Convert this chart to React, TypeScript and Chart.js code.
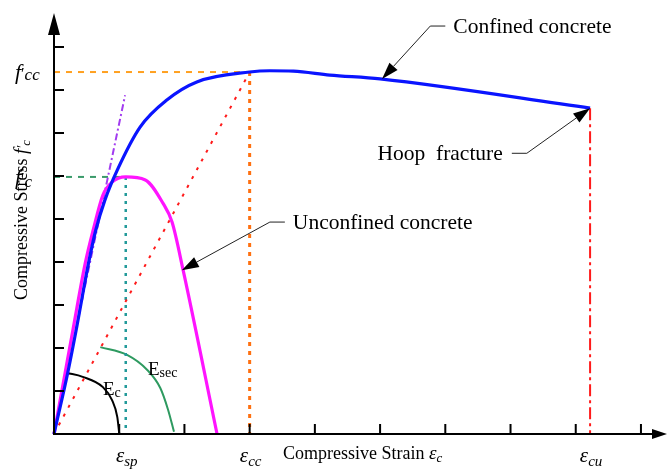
import { useEffect, useRef } from "react";
import { Chart, registerables } from "chart.js";

Chart.register(...registerables);

const SERIF = '"Liberation Serif", "Times New Roman", serif';

// Stress–strain curves (strain and stress in axis-tick units)
const confinedStrain = [0, 0.21, 0.34, 0.53, 0.64, 0.78, 0.97, 1.32, 1.73, 2.19, 3.0, 3.31, 3.67, 4.23, 5.0, 8.22];
const confinedStress = [0, 1.42, 2.42, 3.98, 4.74, 5.44, 6.14, 7.14, 7.77, 8.19, 8.42, 8.45, 8.44, 8.35, 8.26, 7.58];
const unconfinedStrain = [0, 0.17, 0.29, 0.48, 0.6, 0.75, 0.89, 1.1, 1.4, 1.67, 1.81, 1.98, 2.5];
const unconfinedStress = [0, 1.42, 2.42, 3.98, 4.74, 5.56, 5.86, 5.98, 5.91, 5.37, 4.93, 3.81, 0];

// Modulus arcs (Ec, Esec)
const ecArcStrain = [0.2, 0.44, 0.75, 0.89, 0.97, 1.0];
const ecArcStress = [1.42, 1.33, 1.09, 0.79, 0.4, 0.02];
const esecArcStrain = [0.71, 1.12, 1.43, 1.63, 1.75, 1.84];
const esecArcStress = [2.02, 1.84, 1.49, 1.07, 0.56, 0.05];

// Characteristic points
const epsSp = 1.1;
const fc = 5.98;
const epsCc = 3.0;
const fcc = 8.42;
const epsCu = 8.22;
const fcu = 7.58;
const tangentEnd = [1.09, 7.88];

const xTicks = [1, 2, 3, 4, 5, 6, 7, 8, 9];
const yTicks = [1, 2, 3, 4, 5, 6, 7, 8, 9];

// Callouts: label, arrow tip, elbow, leader end
const calloutLabels = ["Confined concrete", "Unconfined concrete", "Hoop  fracture"];
const calloutTips = [[5.03, 8.26], [1.96, 3.81], [8.22, 7.58]];
const calloutElbows = [[5.77, 9.49], [3.31, 4.93], [7.25, 6.53]];
const calloutLeaderEnds = [[6.0, 9.49], [3.54, 4.93], [7.02, 6.53]];

const X_MAX = 9.2;
const Y_MAX = 9.77;

type Part = { t: string; size: number; italic?: boolean; dy?: number };

function drawRich(ctx: CanvasRenderingContext2D, parts: Part[], x: number, y: number, align: "left" | "center" | "right" = "left") {
  const font = (p: Part) => `${p.italic ? "italic " : ""}${p.size}px ${SERIF}`;
  let total = 0;
  for (const p of parts) {
    ctx.font = font(p);
    total += ctx.measureText(p.t).width;
  }
  let cx = align === "left" ? x : align === "center" ? x - total / 2 : x - total;
  ctx.textAlign = "left";
  ctx.textBaseline = "alphabetic";
  for (const p of parts) {
    ctx.font = font(p);
    ctx.fillText(p.t, cx, y + (p.dy || 0));
    cx += ctx.measureText(p.t).width;
  }
}

function pts(xs: number[], ys: number[]) {
  return xs.map((x, i) => ({ x, y: ys[i] }));
}

const overlayPlugin = {
  id: "stressStrainOverlay",
  afterDatasetsDraw(chart: any) {
    const ctx: CanvasRenderingContext2D = chart.ctx;
    const xs = chart.scales.x;
    const ys = chart.scales.y;
    const px = (v: number) => xs.getPixelForValue(v);
    const py = (v: number) => ys.getPixelForValue(v);
    const x0 = px(0);
    const y0 = py(0);
    ctx.save();
    ctx.fillStyle = "#000";
    ctx.strokeStyle = "#000";

    // Axes
    ctx.lineWidth = 2;
    ctx.beginPath();
    ctx.moveTo(x0, y0);
    ctx.lineTo(x0, 30);
    ctx.moveTo(x0 - 1, y0);
    ctx.lineTo(658, y0);
    ctx.stroke();
    // Arrowheads
    ctx.beginPath();
    ctx.moveTo(x0, 13);
    ctx.lineTo(x0 - 6, 35);
    ctx.lineTo(x0 + 6, 35);
    ctx.closePath();
    ctx.fill();
    ctx.beginPath();
    ctx.moveTo(667, y0);
    ctx.lineTo(652, y0 - 5);
    ctx.lineTo(652, y0 + 5);
    ctx.closePath();
    ctx.fill();

    // Inward ticks
    ctx.lineWidth = 2;
    ctx.beginPath();
    for (const t of yTicks) {
      ctx.moveTo(x0, py(t));
      ctx.lineTo(x0 + 10, py(t));
    }
    for (const t of xTicks) {
      ctx.moveTo(px(t), y0);
      ctx.lineTo(px(t), y0 - 10);
    }
    ctx.stroke();

    // Axis titles
    drawRich(ctx, [
      { t: "Compressive Strain ", size: 18 },
      { t: "ε", size: 19, italic: true },
      { t: "c", size: 13, italic: true, dy: 3 },
    ], 283, 459);

    ctx.save();
    ctx.translate(27, 220);
    ctx.rotate(-Math.PI / 2);
    drawRich(ctx, [
      { t: "Compressive Stress ", size: 18 },
      { t: "f", size: 19, italic: true },
      { t: "′", size: 14, italic: true },
      { t: "c", size: 13, italic: true, dy: 3 },
    ], 0, 0, "center");
    ctx.restore();

    // Characteristic stress labels
    drawRich(ctx, [
      { t: "f", size: 22, italic: true },
      { t: "′", size: 16 },
      { t: "cc", size: 17, italic: true, dy: 1 },
    ], 15, py(fcc) + 7);
    drawRich(ctx, [
      { t: "f", size: 22, italic: true },
      { t: "′", size: 16 },
      { t: "c", size: 17, italic: true, dy: 3 },
    ], 15, py(fc) + 7);

    // Characteristic strain labels
    const strainLabels: [number, string][] = [[epsSp, "sp"], [epsCc, "cc"], [epsCu, "cu"]];
    for (const [v, sub] of strainLabels) {
      drawRich(ctx, [
        { t: "ε", size: 21, italic: true },
        { t: sub, size: 15, italic: true, dy: 4 },
      ], px(v) + 1, 462, "center");
    }

    // Modulus labels
    drawRich(ctx, [
      { t: "E", size: 19 },
      { t: "c", size: 14, dy: 2 },
    ], px(0.75), py(0.91));
    drawRich(ctx, [
      { t: "E", size: 19 },
      { t: "sec", size: 14, dy: 2 },
    ], px(1.44), py(1.37));

    // Callouts
    calloutLabels.forEach((label, i) => {
      const [tx, ty] = [px(calloutTips[i][0]), py(calloutTips[i][1])];
      const [ex, ey] = [px(calloutElbows[i][0]), py(calloutElbows[i][1])];
      const [lx, ly] = [px(calloutLeaderEnds[i][0]), py(calloutLeaderEnds[i][1])];
      ctx.strokeStyle = "#222";
      ctx.lineWidth = 1;
      ctx.beginPath();
      ctx.moveTo(lx, ly);
      ctx.lineTo(ex, ey);
      const ang = Math.atan2(ty - ey, tx - ex);
      const len = 17;
      const bx = tx - len * Math.cos(ang);
      const by = ty - len * Math.sin(ang);
      ctx.lineTo(bx, by);
      ctx.stroke();
      ctx.fillStyle = "#000";
      ctx.beginPath();
      ctx.moveTo(tx, ty);
      ctx.lineTo(bx + 5.5 * Math.sin(ang), by - 5.5 * Math.cos(ang));
      ctx.lineTo(bx - 5.5 * Math.sin(ang), by + 5.5 * Math.cos(ang));
      ctx.closePath();
      ctx.fill();
      const right = lx < ex;
      drawRich(ctx, [{ t: label, size: 21.5 }], right ? lx - 9 : lx + 8, ly + 7, right ? "right" : "left");
    });

    ctx.restore();
  },
};

export default function App() {
  const canvasRef = useRef<HTMLCanvasElement | null>(null);

  useEffect(() => {
    if (!canvasRef.current) return;
    const line = (data: { x: number; y: number }[], color: string, width: number, extra: any = {}) => ({
      data,
      borderColor: color,
      borderWidth: width,
      pointRadius: 0,
      fill: false,
      clip: false,
      borderJoinStyle: "round",
      ...extra,
    });
    const smooth = { cubicInterpolationMode: "monotone" };
    const chart = new Chart(canvasRef.current, {
      type: "line",
      data: {
        datasets: [
          line(pts(confinedStrain, confinedStress), "#0a14ff", 3.2, { ...smooth, order: 1 }),
          line(pts(unconfinedStrain, unconfinedStress), "#ff14ff", 3.2, { ...smooth, order: 2 }),
          line([{ x: 0, y: 0 }, { x: tangentEnd[0], y: tangentEnd[1] }], "#a23cf0", 2, { borderDash: [7, 3, 2, 3], order: 3 }),
          line([{ x: 0, y: 0 }, { x: epsCc, y: fcc }], "#ff1a1a", 2, { borderDash: [3, 7], order: 4 }),
          line([{ x: 0, y: fcc }, { x: epsCc, y: fcc }], "#ffa020", 2, { borderDash: [6, 6], order: 5 }),
          line([{ x: epsCc, y: fcc }, { x: epsCc, y: 0 }], "#ff7010", 3, { borderDash: [4, 5], order: 5 }),
          line([{ x: 0, y: fc }, { x: epsSp, y: fc }], "#3a9a6a", 2, { borderDash: [6, 6], order: 6 }),
          line([{ x: epsSp, y: fc }, { x: epsSp, y: 0 }], "#229a9a", 2.5, { borderDash: [3, 5], order: 6 }),
          line([{ x: epsCu, y: fcu }, { x: epsCu, y: 0 }], "#ff1a1a", 2, { borderDash: [12, 4, 3, 4], order: 7 }),
          line(pts(ecArcStrain, ecArcStress), "#000000", 2, { ...smooth, order: 8 }),
          line(pts(esecArcStrain, esecArcStress), "#2e9a60", 2, { ...smooth, order: 8 }),
        ],
      },
      options: {
        responsive: false,
        animation: false,
        devicePixelRatio: 1,
        layout: { padding: { left: 54, right: 13, top: 14, bottom: 38 } },
        plugins: { legend: { display: false }, tooltip: { enabled: false } },
        events: [],
        scales: {
          x: { type: "linear", min: 0, max: X_MAX, display: false },
          y: { type: "linear", min: 0, max: Y_MAX, display: false },
        },
      },
      plugins: [overlayPlugin],
    });
    return () => chart.destroy();
  }, []);

  return (
    <div style={{ position: "fixed", left: 0, top: 0, width: 667, height: 472, background: "#fff" }}>
      <canvas ref={canvasRef} width={667} height={472} />
    </div>
  );
}
